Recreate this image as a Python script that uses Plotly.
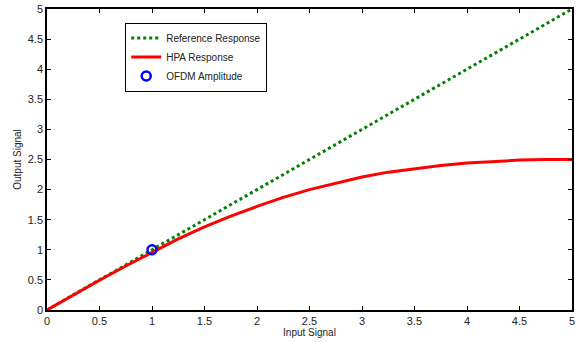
import plotly.graph_objects as go

# Ideal linear amplifier response
ref_x = [0, 5]
ref_y = [0, 5]

# Measured HPA (AM/AM) response
hpa_x = [0, 0.25, 0.5, 0.75, 1.0, 1.25, 1.5, 1.75, 2.0, 2.25, 2.5,
         2.75, 3.0, 3.25, 3.5, 3.75, 4.0, 4.25, 4.5, 4.75, 5.0]
hpa_y = [0, 0.25, 0.495, 0.73, 0.96, 1.18, 1.38, 1.56, 1.72, 1.87, 2.0,
         2.11, 2.21, 2.29, 2.35, 2.40, 2.44, 2.47, 2.49, 2.50, 2.50]

# Operating point of the OFDM signal
ofdm_x = [1]
ofdm_y = [1]

ticks = [0, 0.5, 1, 1.5, 2, 2.5, 3, 3.5, 4, 4.5, 5]
tick_text = ["0", "0.5", "1", "1.5", "2", "2.5", "3", "3.5", "4", "4.5", "5"]

font_family = "Liberation Sans, Arial, sans-serif"

fig = go.Figure()
fig.add_trace(go.Scatter(
    x=ref_x, y=ref_y, mode="lines", name="Reference Response",
    line=dict(color="#008000", width=3, dash="dot"),
))
fig.add_trace(go.Scatter(
    x=hpa_x, y=hpa_y, mode="lines", name="HPA Response",
    line=dict(color="#ff0000", width=3),
))
fig.add_trace(go.Scatter(
    x=ofdm_x, y=ofdm_y, mode="markers", name="OFDM Amplitude",
    marker=dict(symbol="circle-open", size=9, color="#0000ff",
                line=dict(color="#0000ff", width=2.5)),
))

axis_common = dict(
    range=[0, 5], tickvals=ticks, ticktext=tick_text,
    showgrid=False, zeroline=False, automargin=False,
    showline=True, linecolor="black", linewidth=1.5, mirror="ticks",
    ticks="inside", ticklen=4, tickwidth=1, tickcolor="black",
    tickfont=dict(family=font_family, size=11, color="#222222"),
)

fig.update_layout(
    width=579, height=342,
    margin=dict(l=47, r=7, t=9, b=32),
    paper_bgcolor="white", plot_bgcolor="white",
    font=dict(family=font_family, size=10, color="#222222"),
    xaxis=dict(axis_common, title=dict(text="Input Signal", standoff=2,
                                       font=dict(size=10))),
    yaxis=dict(axis_common, title=dict(text="Output Signal", standoff=4,
                                       font=dict(size=10))),
    showlegend=True,
    legend=dict(
        x=0.149, y=0.955, xanchor="left", yanchor="top",
        bgcolor="white", bordercolor="black", borderwidth=1,
        font=dict(family=font_family, size=10, color="#222222"),
        tracegroupgap=0, itemwidth=30,
    ),
)

fig.write_html("out.html")
